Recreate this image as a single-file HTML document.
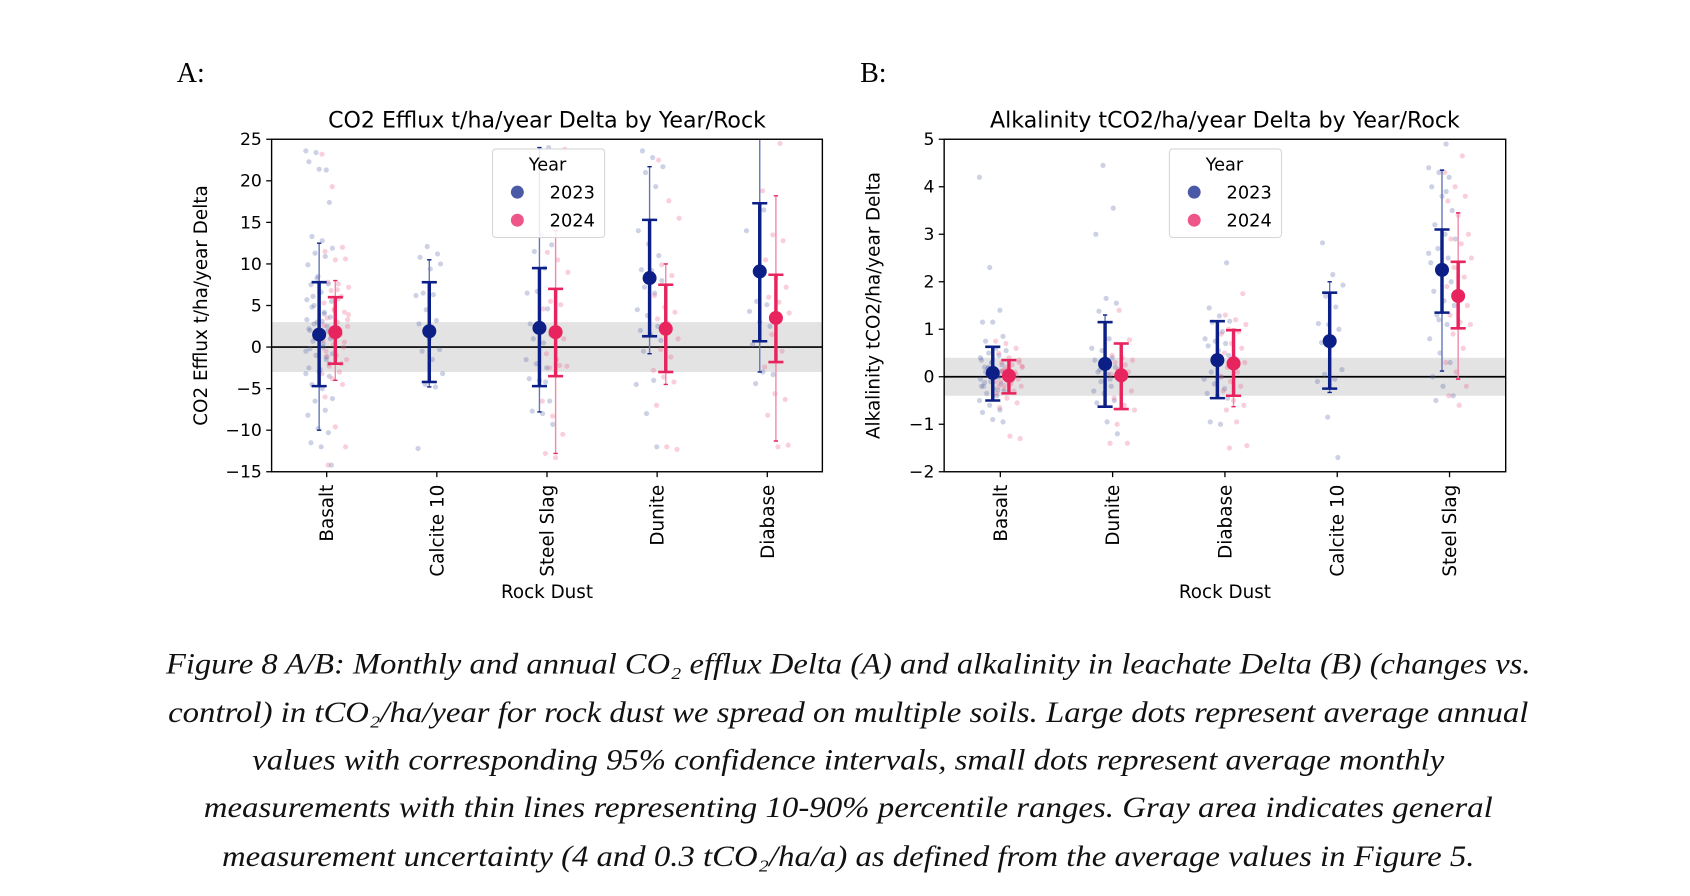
<!DOCTYPE html>
<html><head><meta charset="utf-8">
<style>
html,body{margin:0;padding:0;background:#fff;}
svg{display:block;}
text{font-family:"DejaVu Sans","Liberation Sans",sans-serif;}
.cap{font-family:"Liberation Serif",serif;font-style:italic;font-size:27px;fill:#111;}
</style></head>
<body>
<svg id="fig" width="1690" height="896" viewBox="0 0 1568 830" preserveAspectRatio="none" xmlns="http://www.w3.org/2000/svg">
<rect x="0" y="0" width="1568" height="830" fill="#fff"/>
<text x="164" y="76" style="font-family:'Liberation Serif',serif;font-size:26px">A:</text>
<text x="798" y="76" style="font-family:'Liberation Serif',serif;font-size:26px">B:</text>
<g id="chartA"></g>
<g id="chartB"></g>
<g>
<text class="cap" x="787" y="624" text-anchor="middle" textLength="1266" lengthAdjust="spacingAndGlyphs">Figure 8 A/B: Monthly and annual CO₂ efflux Delta (A) and alkalinity in leachate Delta (B) (changes vs.</text>
<text class="cap" x="787" y="669" text-anchor="middle" textLength="1262" lengthAdjust="spacingAndGlyphs">control) in tCO₂/ha/year for rock dust we spread on multiple soils. Large dots represent average annual</text>
<text class="cap" x="787" y="713" text-anchor="middle" textLength="1106" lengthAdjust="spacingAndGlyphs">values with corresponding 95% confidence intervals, small dots represent average monthly</text>
<text class="cap" x="787" y="757" text-anchor="middle" textLength="1196" lengthAdjust="spacingAndGlyphs">measurements with thin lines representing 10-90% percentile ranges. Gray area indicates general</text>
<text class="cap" x="787" y="802" text-anchor="middle" textLength="1162" lengthAdjust="spacingAndGlyphs">measurement uncertainty (4 and 0.3 tCO₂/ha/a) as defined from the average values in Figure 5.</text>
</g>
</svg>
<script>
// ---------- Panel A data ----------
const catsA = ["Basalt","Calcite 10","Steel Slag","Dunite","Diabase"];
const ticksA = [25,20,15,10,5,0,-5,-10,-15];
const meanA23 = [1.5,1.9,2.3,8.3,9.1];
const ciLoA23 = [-4.7,-4.2,-4.7,1.3,0.7];
const ciHiA23 = [7.8,7.8,9.5,15.3,17.3];
const pLoA23 = [-10,-4.8,-7.8,-0.8,-3];
const pHiA23 = [12.5,10.5,24,21.7,26];
const meanA24 = [1.8,null,1.8,2.2,3.5];
const ciLoA24 = [-2,null,-3.5,-3,-1.8];
const ciHiA24 = [6,null,7,7.5,8.7];
const pLoA24 = [-4,null,-12.8,-4.5,-11.3];
const pHiA24 = [8,null,14,10,18.2];
const dotsA23 = [
 [23.6,23.4,21.3,22.3,21.4,17.4,13.3,12.8,11.9,11.3,10.9,9.9,8.5,7.6,7.5,6.6,5.5,5,4.2,3.3,3,2.5,2,1.3,1,0.7,0,-0.5,-1,-1.5,-2.5,-3,-3.5,-4.5,-5,-6.2,-6.5,-7.6,-8.2,-9.8,-10.3,-11.5,-12,-14.2,2.8,4,5.7,8.3,1.9,-0.2,-2.7,3.6,6.1,0.4,-3.2,1.6,-1.2,2.2,0.9,-2.0,4.8,3.1,-0.8,1.1],
 [12.1,11.2,10.8,9.4,10,6.5,6.3,6.2,4.5,3.2,2.8,1,-0.3,-0.5,-1.5,-3.2,-4.5,-4.8,-12.2],
 [24,22.5,13.5,12.3,11.5,9.5,6.5,6.7,4.6,2.8,2,1.5,1,0.5,-1.5,-2,-2.5,-3.8,-4,-6.5,-7.7,-8,-9.3,2.5,-4.2],
 [23.6,22.8,21.7,21,19.3,14,12.4,11,9.3,9.2,8,7.2,6.5,4.5,3.8,2.5,2,1.5,0.8,-0.5,-4,-4.5,-8,-12],
 [16.5,14,5.5,5.1,4.3,3,2.5,0.3,-3,-3.3,-4.4]
];
const dotsA24 = [
 [23.2,19.3,12,11.5,10.5,10.6,7.8,7.6,7.2,6.8,6.1,5.3,4.6,4.2,3.5,3,2.5,2,1.5,0.8,0.3,0,-0.5,-1,-1.5,-2.3,-3,-3.2,-3.8,-4.5,-6,-9.6,-12,-14.2,5.8,3.9,1.2,-2,2.6,4.4,0.6,-1.1,6.9,3.3],
 [],
 [23.8,11.4,10.5,9,5.5,5.1,4.6,1.3,1,-0.8,-1.5,-2.3,-2.5,-2.2,-6.5,-8.3,-10.5,-12.8,-13.3],
 [22.5,17.6,15.5,9.9,8.6,6.2,4.8,4.2,3.4,2.9,1,-0.3,-1.2,-2.8,-3.6,-4.2,-7,-12,-12.3],
 [24.5,18.8,13.5,12.8,10.5,8.3,7.2,6,5.4,4.1,1.5,-0.5,-2.4,-5.6,-6.3,-8.2,-12,-11.8]
];
// ---------- Panel B data ----------
const catsB = ["Basalt","Dunite","Diabase","Calcite 10","Steel Slag"];
const ticksB = [5,4,3,2,1,0,-1,-2];
const meanB23 = [0.08,0.27,0.35,0.75,2.25];
const ciLoB23 = [-0.5,-0.63,-0.45,-0.25,1.35];
const ciHiB23 = [0.63,1.15,1.17,1.77,3.1];
const pLoB23 = [-0.5,-0.63,-0.45,-0.33,0.12];
const pHiB23 = [0.63,1.3,1.17,2.0,4.35];
const meanB24 = [0.02,0.03,0.28,null,1.7];
const ciLoB24 = [-0.35,-0.68,-0.4,null,1.02];
const ciHiB24 = [0.35,0.7,0.98,null,2.42];
const pLoB24 = [-0.35,-0.68,-0.63,null,-0.05];
const pHiB24 = [0.35,0.7,1.0,null,3.45];
const dotsB23 = [
 [4.2,2.3,1.4,1.15,1.15,0.85,0.75,0.6,0.55,0.5,0.45,0.35,0.3,0.25,0.2,0.15,0.1,0.05,0,-0.05,-0.1,-0.15,-0.2,-0.25,-0.3,-0.35,-0.4,-0.5,-0.6,-0.7,-0.75,-0.9,-0.95,0.1,0.05,-0.05,0.2,0,-0.2,0.3,0.12,-0.12,0.08,-0.02,0.18,-0.28,0.4],
 [4.45,3.55,3.0,1.65,1.55,1.38,0.8,0.6,0.55,0.4,0.35,0.3,0.2,0.1,0.05,0,-0.1,-0.2,-0.3,-0.35,-0.5,-0.55,-0.95,-1.2,0.15,-0.05],
 [2.4,1.45,1.28,1.17,1.15,0.95,0.8,0.75,0.7,0.65,0.55,0.45,0.1,0,-0.05,-0.15,-0.25,-0.35,-0.4,-0.45,-0.95,-1.0,0.3],
 [2.82,2.15,1.93,1.7,1.47,1.12,1.1,1.0,0.72,0.65,0.15,0.05,-0.05,-0.1,-0.85,-1.7],
 [4.9,4.4,4.3,4.2,4.0,3.8,3.5,3.2,3.0,2.9,2.7,2.5,2.4,2.2,2.0,1.8,1.6,1.5,1.3,1.1,0.8,0.5,0.3,0,-0.2,-0.4,-0.5,3.9,2.6,1.2]
];
const dotsB24 = [
 [0.75,0.7,0.6,0.5,0.4,0.35,0.3,0.25,0.2,0.15,0.1,0.05,0,-0.05,-0.1,-0.15,-0.2,-0.25,-0.3,-0.35,-0.45,-0.55,-0.65,-1.25,-1.3,0.1,0,-0.1,0.2,0.05,-0.2,0.15,0.3,0.12,-0.08,0.22,-0.18],
 [1.4,0.78,0.45,0.4,0.35,0.3,0.25,0.2,0.15,0.1,0.05,-0.1,-0.3,-0.45,-0.6,-0.7,-1.0,-1.4,-1.4],
 [1.75,1.3,1.2,1.1,1.0,0.95,0.9,0.7,0.6,0.5,0.4,0.3,0.2,0.1,0,-0.1,-0.2,-0.3,-0.5,-0.6,-0.7,-0.95,-1.45,-1.5],
 [],
 [4.65,4.3,4.0,3.8,3.7,3.4,3.0,2.9,2.8,2.5,2.3,2.1,1.9,1.7,1.5,1.3,1.15,1.1,0.9,0.6,0.3,0.1,-0.2,-0.4,-0.6]
];

const NS="http://www.w3.org/2000/svg";
function mk(parent,tag,attrs){const e=document.createElementNS(NS,tag);for(const k in attrs)e.setAttribute(k,attrs[k]);parent.appendChild(e);return e;}

function drawChart(g,cfg){
  const {x0,x1,y0,y1,ymin,ymax,cats,ticks,band,title,ylabel,legendX} = cfg;
  const sy=v=>y1-(v-ymin)/(ymax-ymin)*(y1-y0);
  const bw=(x1-x0)/cats.length;
  const sx=i=>x0+bw*(i+0.5);
  const clip="clip"+g.id;
  const defs=mk(g,"defs",{});
  const cp=mk(defs,"clipPath",{id:clip});mk(cp,"rect",{x:x0,y:y0,width:x1-x0,height:y1-y0});
  const band_=mk(g,"rect",{x:x0,y:sy(band),width:x1-x0,height:sy(-band)-sy(band),fill:"#e3e3e3"});
  
  
  const zl=mk(g,"line",{x1:x0,x2:x1,y1:sy(0),y2:sy(0),stroke:"#000","stroke-width":1.6});
  
  
  const plot=mk(g,"g",{"clip-path":`url(#${clip})`});
  const series=[
    {dots:cfg.d23,mean:cfg.m23,lo:cfg.l23,hi:cfg.h23,plo:cfg.pl23,phi:cfg.ph23,off:-7,dc:"#5566a8",mc:"#0b1f86",tc:"#6676b8",name:"2023"},
    {dots:cfg.d24,mean:cfg.m24,lo:cfg.l24,hi:cfg.h24,plo:cfg.pl24,phi:cfg.ph24,off:8,dc:"#ee5f8c",mc:"#e8245f",tc:"#f08aaa",name:"2024"}
  ];
  series.forEach(s=>{
    s.dots.forEach((arr,ci)=>{
      arr.forEach((v,j)=>{
        const jit=((j*37+ci*11)%27)-13;
        const c=mk(plot,"circle",{cx:sx(ci)+s.off+jit*0.95,cy:sy(v),r:2.4,fill:s.dc,"fill-opacity":0.3});
        
        
      });
    });
  });
  series.forEach(s=>{
    s.mean.forEach((m,ci)=>{
      if(m===null)return;
      const x=sx(ci)+s.off;
      const gg=mk(plot,"g",{});
      
      
      mk(gg,"line",{x1:x,x2:x,y1:sy(s.plo[ci]),y2:sy(s.phi[ci]),stroke:s.tc,"stroke-width":1.3});
      mk(gg,"line",{x1:x-2,x2:x+2,y1:sy(s.plo[ci]),y2:sy(s.plo[ci]),stroke:s.mc,"stroke-width":1.3});
      mk(gg,"line",{x1:x-2,x2:x+2,y1:sy(s.phi[ci]),y2:sy(s.phi[ci]),stroke:s.mc,"stroke-width":1.3});
      mk(gg,"line",{x1:x,x2:x,y1:sy(s.lo[ci]),y2:sy(s.hi[ci]),stroke:s.mc,"stroke-width":3.2});
      mk(gg,"line",{x1:x-7,x2:x+7,y1:sy(s.lo[ci]),y2:sy(s.lo[ci]),stroke:s.mc,"stroke-width":2.4});
      mk(gg,"line",{x1:x-7,x2:x+7,y1:sy(s.hi[ci]),y2:sy(s.hi[ci]),stroke:s.mc,"stroke-width":2.4});
      mk(gg,"circle",{cx:x,cy:sy(m),r:6.5,fill:s.mc});
    });
  });
  const frame=mk(g,"rect",{x:x0,y:y0,width:x1-x0,height:y1-y0,fill:"none",stroke:"#000","stroke-width":1.3});
  
  
  ticks.forEach(t=>{
    mk(g,"line",{x1:x0-5,x2:x0,y1:sy(t),y2:sy(t),stroke:"#000","stroke-width":1.2});
    const tx=mk(g,"text",{x:x0-9,y:sy(t)+5.5,"text-anchor":"end","font-size":16});
    tx.textContent=(t<0?"\u2212"+(-t):t);
    
    
  });
  cats.forEach((c,i)=>{
    mk(g,"line",{x1:sx(i),x2:sx(i),y1:y1,y2:y1+5,stroke:"#000","stroke-width":1.2});
    const tx=mk(g,"text",{x:0,y:0,"text-anchor":"end","font-size":17,transform:`translate(${sx(i)+6},${y1+12}) rotate(-90)`});
    tx.textContent=c;
    
    
  });
  const tt=mk(g,"text",{x:(x0+x1)/2,y:y0-11,"text-anchor":"middle","font-size":20.5});
  tt.textContent=title;
  
  
  const yl=mk(g,"text",{x:0,y:0,"text-anchor":"middle","font-size":17,transform:`translate(${x0-60},${(y0+y1)/2}) rotate(-90)`});
  yl.textContent=ylabel;
  
  
  const xl=mk(g,"text",{x:(x0+x1)/2,y:554,"text-anchor":"middle","font-size":17});
  xl.textContent="Rock Dust";
  
  
  const lg=mk(g,"g",{});
  
  
  mk(lg,"rect",{x:legendX,y:138,width:104,height:82,rx:3,fill:"#fff","fill-opacity":0.85,stroke:"#d6d6d6"});
  const lt=mk(lg,"text",{x:legendX+51,y:158,"text-anchor":"middle","font-size":16.5});lt.textContent="Year";
  [["2023","#4a5aa6",178],["2024","#ee5588",204]].forEach(([n,c,yy])=>{
    const e=mk(lg,"g",{});
    
    
    mk(e,"circle",{cx:legendX+23,cy:yy,r:6,fill:c});
    const t=mk(e,"text",{x:legendX+53,y:yy+6,"font-size":16.5});t.textContent=n;
  });
}
drawChart(document.getElementById("chartA"),{x0:252,x1:763,y0:129,y1:437,ymin:-15,ymax:25,cats:catsA,ticks:ticksA,band:3,
 title:"CO2 Efflux t/ha/year Delta by Year/Rock",ylabel:"CO2 Efflux t/ha/year Delta",legendX:457,
 d23:dotsA23,m23:meanA23,l23:ciLoA23,h23:ciHiA23,pl23:pLoA23,ph23:pHiA23,
 d24:dotsA24,m24:meanA24,l24:ciLoA24,h24:ciHiA24,pl24:pLoA24,ph24:pHiA24});
drawChart(document.getElementById("chartB"),{x0:876,x1:1397,y0:129,y1:437,ymin:-2,ymax:5,cats:catsB,ticks:ticksB,band:0.4,
 title:"Alkalinity tCO2/ha/year Delta by Year/Rock",ylabel:"Alkalinity tCO2/ha/year Delta",legendX:1085,
 d23:dotsB23,m23:meanB23,l23:ciLoB23,h23:ciHiB23,pl23:pLoB23,ph23:pHiB23,
 d24:dotsB24,m24:meanB24,l24:ciLoB24,h24:ciHiB24,pl24:pLoB24,ph24:pHiB24});
</script>
</body></html>
